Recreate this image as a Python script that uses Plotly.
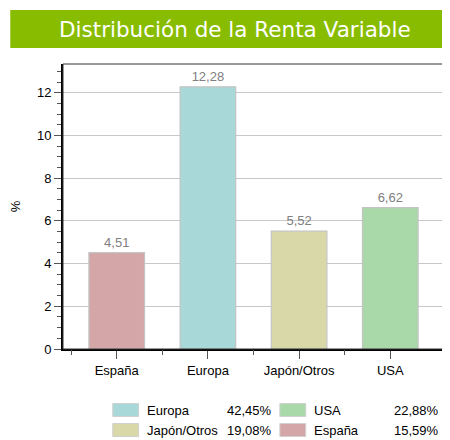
import plotly.graph_objects as go

# ---- data ----
categories = ["España", "Europa", "Japón/Otros", "USA"]
values = [4.51, 12.28, 5.52, 6.62]
bar_colors = ["#d5a6a7", "#a9d8d8", "#d9d8a9", "#a9d8a9"]

legend_names = ["Europa", "USA", "Japón/Otros", "España"]
legend_pcts = [42.45, 22.88, 19.08, 15.59]
legend_colors = ["#a9d8d8", "#a9d8a9", "#d9d8a9", "#d5a6a7"]

title_text = "Distribución de la Renta Variable"
y_title = "%"

OFF = 8  # page body margin
W, H = 450 - OFF, 440 - OFF
L, T = 61 - OFF, 64 - OFF
R = W - (444 - OFF)
B = H - (349 - OFF)
PW, PH = W - L - R, H - T - B


def px(x):  # page pixel -> paper
    return (x - OFF - L) / PW


def py(y):
    return (H - B - (y - OFF)) / PH


def fmt(v):
    return f"{v:.2f}".replace(".", ",")


xpos = list(range(len(categories)))

fig = go.Figure()
fig.add_trace(go.Bar(
    x=xpos, y=values, width=0.61,
    marker=dict(color=bar_colors, line=dict(color="#c4c4c4", width=1.2)),
    text=[fmt(v) for v in values], textposition="outside",
    textfont=dict(family="Liberation Sans, Arial", size=13, color="#808080"),
    cliponaxis=False, showlegend=False, hoverinfo="skip",
))
# helper trace for boundary ticks axis
fig.add_trace(go.Scatter(x=[0], y=[0], xaxis="x2", mode="markers",
                         marker=dict(opacity=0), showlegend=False, hoverinfo="skip"))

fig.update_layout(
    width=W, height=H,
    margin=dict(l=L, r=R, t=T, b=B),
    paper_bgcolor="white", plot_bgcolor="white",
    font=dict(family="Liberation Sans, Arial", size=13, color="black"),
    xaxis=dict(
        range=[-0.589, 3.589], tickvals=xpos, ticktext=categories,
        ticks="outside", ticklen=8, tickcolor="#555", tickwidth=1,
        showgrid=False, zeroline=False,
        showline=True, linecolor="black", linewidth=2,
        tickfont=dict(size=13),
    ),
    xaxis2=dict(
        overlaying="x", matches="x", range=[-0.589, 3.589],
        tickvals=[i - 0.5 for i in xpos], showticklabels=False,
        ticks="outside", ticklen=5, tickcolor="#555", tickwidth=1,
        showgrid=False, zeroline=False, showline=False, side="bottom",
    ),
    yaxis=dict(
        range=[0, 13.35], dtick=2, tick0=0,
        ticks="outside", ticklen=7, tickcolor="#555", tickwidth=1,
        minor=dict(dtick=0.5, tick0=0, ticks="outside", ticklen=4,
                   tickcolor="#555", showgrid=False),
        showgrid=True, gridcolor="#c8c8c8", gridwidth=1,
        zeroline=False, showline=True, linecolor="black", linewidth=2,
        tickfont=dict(size=13),
        title=dict(text=y_title, standoff=14, font=dict(size=13)),
    ),
)

shapes = []
# frame (top / right)
shapes.append(dict(type="rect", xref="paper", yref="paper", x0=0, x1=1, y0=0, y1=1,
                   line=dict(color="#333", width=1), layer="above"))
# title band
shapes.append(dict(type="rect", xref="paper", yref="paper",
                   x0=px(OFF), x1=px(449), y0=py(48), y1=py(10),
                   fillcolor="#88bc00", line=dict(width=0), layer="below"))

annotations = [dict(
    text=title_text, xref="paper", yref="paper", x=px(234), y=py(29),
    xanchor="center", yanchor="middle", showarrow=False,
    font=dict(family="DejaVu Sans", size=21.5, color="white"),
)]

# custom legend (2 columns, row-wise)
col_x = [111, 279]
row_y = [410, 430]
for i, (name, pct, col) in enumerate(zip(legend_names, legend_pcts, legend_colors)):
    r, c = divmod(i, 2)
    x0 = col_x[c]
    yc = row_y[r]
    shapes.append(dict(type="rect", xref="paper", yref="paper",
                       x0=px(x0), x1=px(x0 + 26), y0=py(yc + 6.5), y1=py(yc - 6.5),
                       fillcolor=col, line=dict(color="#d0d0d0", width=1)))
    annotations.append(dict(text=name, xref="paper", yref="paper",
                            x=px(x0 + 32), y=py(yc), xanchor="left", yanchor="middle",
                            showarrow=False, font=dict(size=13, color="black")))
    annotations.append(dict(text=fmt(pct) + "%", xref="paper", yref="paper",
                            x=px(x0 + 162), y=py(yc), xanchor="right", yanchor="middle",
                            showarrow=False, font=dict(size=13, color="black")))

fig.update_layout(shapes=shapes, annotations=annotations)
fig.write_html("out.html")
